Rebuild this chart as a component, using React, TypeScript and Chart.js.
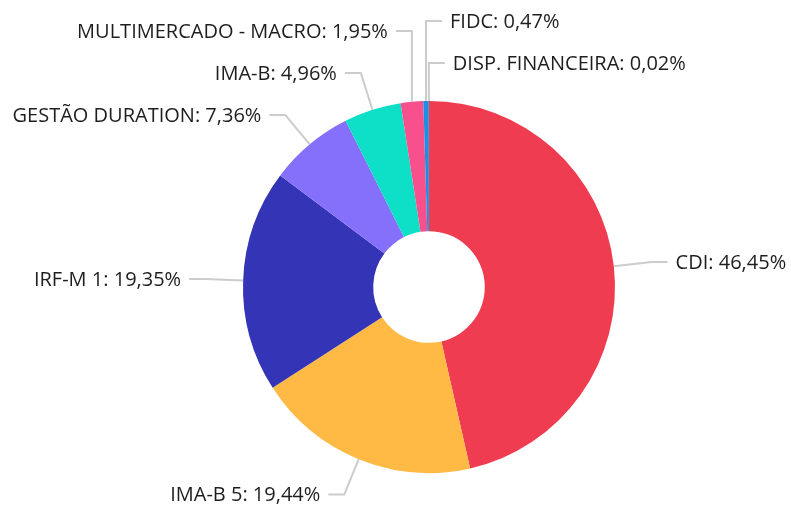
import React, { useEffect, useRef } from "react";
import { Chart, registerables } from "chart.js";

Chart.register(...registerables);

const categories = [
  "CDI",
  "IMA-B 5",
  "IRF-M 1",
  "GESTÃO DURATION",
  "IMA-B",
  "MULTIMERCADO - MACRO",
  "FIDC",
  "DISP. FINANCEIRA",
];
const values = [46.45, 19.44, 19.35, 7.36, 4.96, 1.95, 0.47, 0.02];
const valueLabels = ["46,45%", "19,44%", "19,35%", "7,36%", "4,96%", "1,95%", "0,47%", "0,02%"];
const colors = ["#EF3C51", "#FFBA45", "#3434B6", "#8470FA", "#0DE0C6", "#F8508D", "#1C8FE3", "#2E6FD8"];

const FONT = '20px "Open Sans"';

const labelPlugin = {
  id: "pieLabels",
  afterDatasetsDraw(chart: any) {
    const meta = chart.getDatasetMeta(0);
    const ctx: CanvasRenderingContext2D = chart.ctx;
    const items = meta.data.map((arc: any, i: number) => {
      const p = arc.getProps(["x", "y", "startAngle", "endAngle", "outerRadius"], true);
      const mid = (p.startAngle + p.endAngle) / 2;
      const dx = Math.cos(mid);
      const dy = Math.sin(mid);
      const sx = p.x + dx * p.outerRadius;
      const sy = p.y + dy * p.outerRadius;
      const R = p.outerRadius + 38;
      const nx = p.x + dx * R;
      const ny = p.y + dy * R;
      let a = mid + Math.PI / 2;
      while (a < 0) a += Math.PI * 2;
      while (a >= Math.PI * 2) a -= Math.PI * 2;
      const right = dx > -0.03;
      const key = right ? (a > Math.PI ? a - Math.PI * 2 : a) : -a;
      return { i, dx, dy, sx, sy, nx, ny, ly: ny, right, key };
    });
    const spacing = 42;
    [true, false].forEach((side) => {
      const list = items.filter((it: any) => it.right === side).sort((p: any, q: any) => p.key - q.key);
      for (let k = list.length - 2; k >= 0; k--) {
        list[k].ly = Math.min(list[k].ly, list[k + 1].ly - spacing);
      }
    });
    ctx.save();
    ctx.font = FONT;
    ctx.textBaseline = "middle";
    items.forEach((it: any) => {
      const pushed = Math.abs(it.ly - it.ny) > 3;
      const ex = pushed ? it.sx : it.nx;
      const dir = it.right ? 1 : -1;
      ctx.strokeStyle = "#cccccc";
      ctx.lineWidth = 2;
      ctx.beginPath();
      ctx.moveTo(it.sx, it.sy);
      ctx.lineTo(ex, it.ly);
      ctx.lineTo(ex + dir * 16, it.ly);
      ctx.stroke();
      ctx.fillStyle = "#1e1e1e";
      ctx.textAlign = it.right ? "left" : "right";
      ctx.fillText(`${categories[it.i]}: ${valueLabels[it.i]}`, ex + dir * 24, it.ly + 1);
    });
    ctx.restore();
  },
};

export default function App() {
  const ref = useRef<HTMLCanvasElement | null>(null);
  useEffect(() => {
    let chart: Chart | null = null;
    let cancelled = false;
    const make = () => {
      if (cancelled || !ref.current) return;
      chart = new Chart(ref.current, {
        type: "doughnut",
        data: {
          labels: categories,
          datasets: [
            {
              data: values,
              backgroundColor: colors,
              borderWidth: 0,
            },
          ],
        },
        options: {
          responsive: false,
          animation: false,
          cutout: "30%",
          layout: { padding: { top: 101, bottom: 36, left: 243, right: 176 } },
          plugins: { legend: { display: false }, tooltip: { enabled: false } },
        },
        plugins: [labelPlugin],
      });
    };
    const fonts: any = (document as any).fonts;
    if (fonts && fonts.load) {
      fonts.load(FONT).then(make, make);
    } else make();
    return () => {
      cancelled = true;
      if (chart) chart.destroy();
    };
  }, []);
  return (
    <div style={{ position: "absolute", left: 0, top: 0, width: 791, height: 509, background: "#fff" }}>
      <canvas ref={ref} width={791} height={509} />
    </div>
  );
}
